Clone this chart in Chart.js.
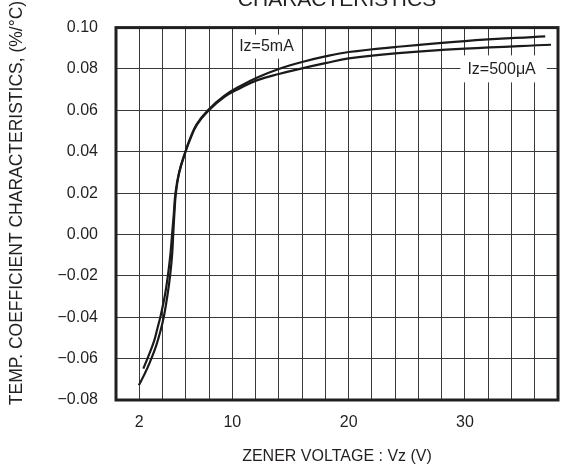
<!DOCTYPE html>
<html><head><meta charset="utf-8">
<script src="https://cdn.jsdelivr.net/npm/chart.js@4.4.0/dist/chart.umd.min.js"></script>
<style>html,body{margin:0;padding:0;background:#fff;}#wrap{width:571px;height:470px;}</style>
</head><body><div id="wrap"><canvas id="c" width="571" height="470"></canvas></div>
<script>
const TITLE = 'CHARACTERISTICS';
const X_TITLE = 'ZENER VOLTAGE : Vz (V)';
const Y_TITLE = 'TEMP. COEFFICIENT CHARACTERISTICS, (%/\u00B0C)';
const SERIES_NAMES = ['Iz=5mA', 'Iz=500\u03BCA'];

const V_5MA  = [2.35, 2.77, 3.28, 3.57, 3.83, 4.20, 4.47, 4.68, 4.82, 4.97, 5.11, 5.42, 5.96, 6.39, 6.93, 7.9, 9.3, 10.7, 12.1, 14.0, 16.0, 18.0, 20.0, 24.0, 30.0, 36.9];
const TC_5MA = [-0.0648, -0.0590, -0.0514, -0.0452, -0.0395, -0.0295, -0.0195, -0.0095, 0.000, 0.010, 0.020, 0.030, 0.040, 0.0467, 0.0533, 0.0601, 0.0670, 0.0718, 0.0758, 0.0800, 0.0834, 0.0861, 0.0882, 0.0906, 0.0935, 0.0958];

const V_500UA  = [1.96, 2.40, 2.90, 3.45, 3.82, 4.12, 4.42, 4.66, 4.83, 4.92, 5.02, 5.15, 5.44, 5.98, 6.41, 6.95, 7.92, 9.3, 10.7, 12.1, 14.0, 16.0, 18.0, 20.0, 24.0, 30.0, 37.4];
const TC_500UA = [-0.0729, -0.0681, -0.0619, -0.0538, -0.0467, -0.0395, -0.0295, -0.0195, -0.0095, 0.000, 0.010, 0.020, 0.030, 0.040, 0.0465, 0.0530, 0.0597, 0.0664, 0.0708, 0.0745, 0.0776, 0.0803, 0.0828, 0.0851, 0.0875, 0.0898, 0.0917];

const X_TICKS = [0, 2, 4, 6, 8, 10, 12, 14, 16, 18, 20, 22, 24, 26, 28, 30, 32, 34, 36, 38];
const X_LABELED = [2, 10, 20, 30];
const Y_TICKS = [-0.08, -0.06, -0.04, -0.02, 0.00, 0.02, 0.04, 0.06, 0.08, 0.10];

const LABEL_X = [12.94, 33.15];
const LABEL_Y = [0.0908, 0.0798];

const FONT = '"Liberation Sans", Arial, Helvetica, sans-serif';
const TEXT = '#231f20';

function pts(xs, ys) { return xs.map((v, i) => ({x: v, y: ys[i]})); }

const deco = {
  id: 'deco',
  beforeDatasetsDraw(chart) {
    const {ctx, scales: {x, y}} = chart;
    ctx.save();
    ctx.font = '16px ' + FONT;
    ctx.textAlign = 'center';
    ctx.textBaseline = 'middle';
    const pads = [[4, 4, 12, 12], [7, 11, 14, 13]];
    SERIES_NAMES.forEach((name, i) => {
      const px = x.getPixelForValue(LABEL_X[i]);
      const py = y.getPixelForValue(LABEL_Y[i]);
      const w = ctx.measureText(name).width;
      const p = pads[i];
      ctx.fillStyle = '#fff';
      ctx.fillRect(px - w / 2 - p[0], py - p[2], w + p[0] + p[1], p[2] + p[3]);
      ctx.fillStyle = TEXT;
      ctx.fillText(name, px, py);
    });
    ctx.restore();
  },
  afterDatasetsDraw(chart) {
    const {ctx, chartArea: a} = chart;
    ctx.save();
    ctx.strokeStyle = '#231f20';
    ctx.lineWidth = 3;
    ctx.strokeRect(a.left, a.top, a.right - a.left, a.bottom - a.top);
    ctx.restore();
  },
  afterDraw(chart) {
    const {ctx, chartArea: a} = chart;
    ctx.save();
    ctx.fillStyle = TEXT;
    ctx.font = '21px ' + FONT;
    ctx.textAlign = 'center';
    ctx.textBaseline = 'alphabetic';
    ctx.fillText(TITLE, 337, 6);
    ctx.font = '16px ' + FONT;
    ctx.textBaseline = 'middle';
    ctx.fillText(X_TITLE, (a.left + a.right) / 2, 457);
    ctx.font = '17.5px ' + FONT;
    ctx.translate(17, 203);
    ctx.rotate(-Math.PI / 2);
    ctx.fillText(Y_TITLE, 0, 0);
    ctx.restore();
  }
};

new Chart(document.getElementById('c'), {
  type: 'line',
  data: {
    datasets: [
      {label: SERIES_NAMES[0], data: pts(V_5MA, TC_5MA)},
      {label: SERIES_NAMES[1], data: pts(V_500UA, TC_500UA)}
    ].map(d => Object.assign(d, {
      borderColor: '#1a1a1a', borderWidth: 2.2, pointRadius: 0, fill: false,
      tension: 0.4
    }))
  },
  options: {
    responsive: false,
    animation: false,
    devicePixelRatio: 1,
    layout: {padding: {left: 0, right: 3, top: 22, bottom: 0}},
    plugins: {legend: {display: false}, title: {display: false}, tooltip: {enabled: false}},
    scales: {
      x: {
        type: 'linear', min: 0, max: 38,
        afterFit(s) { s.height = 70; },
        afterBuildTicks(s) { s.ticks = X_TICKS.map(v => ({value: v})); },
        grid: {color: '#3a3a3a', lineWidth: 1, drawTicks: false},
        border: {display: false},
        ticks: {
          autoSkip: false, maxRotation: 0, padding: 13,
          color: TEXT, font: {family: FONT, size: 16},
          callback: v => X_LABELED.includes(v) ? String(v) : ''
        }
      },
      y: {
        type: 'linear', min: -0.08, max: 0.10,
        afterFit(s) { s.width = 116; },
        afterBuildTicks(s) { s.ticks = Y_TICKS.map(v => ({value: v})); },
        grid: {color: '#3a3a3a', lineWidth: 1, drawTicks: false},
        border: {display: false},
        ticks: {
          autoSkip: false, padding: 18,
          color: TEXT, font: {family: FONT, size: 16},
          callback: v => (v < 0 ? '\u2212' : '') + Math.abs(v).toFixed(2)
        }
      }
    }
  },
  plugins: [deco]
});
</script>
</body></html>
